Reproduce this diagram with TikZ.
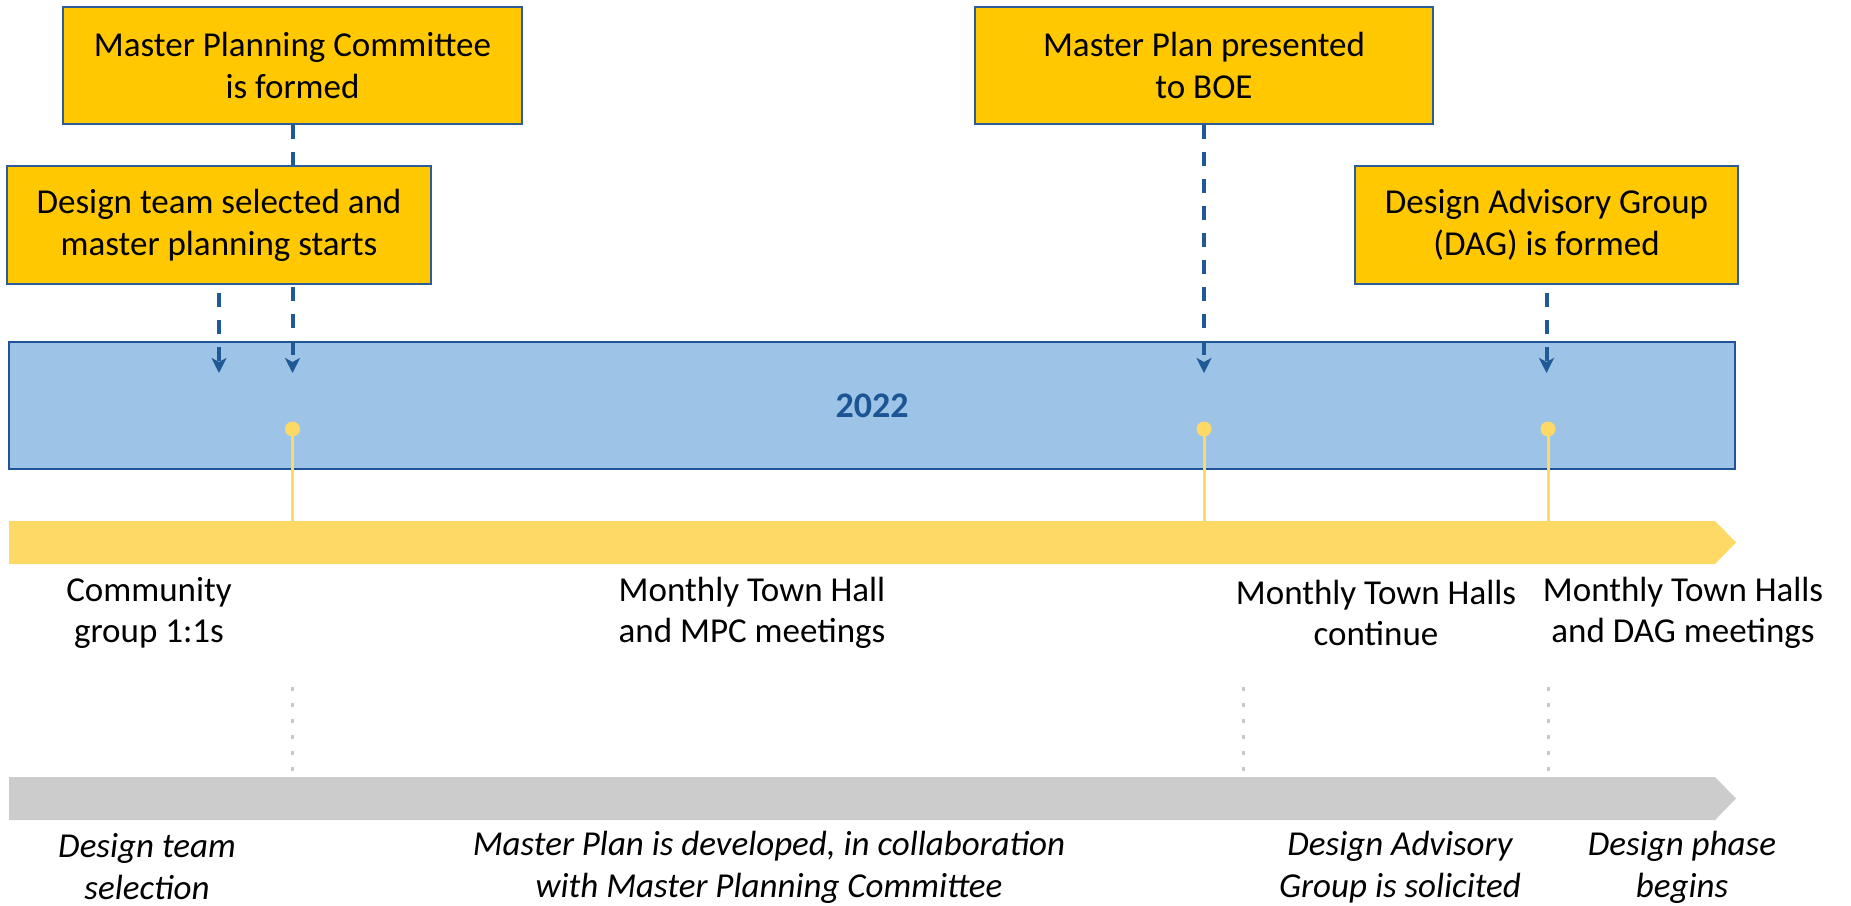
\documentclass[tikz,border=0pt]{standalone}
\usepackage{fontspec}
\setmainfont{Carlito}
\usetikzlibrary{arrows.meta}
\definecolor{boxgold}{HTML}{FFC800}
\definecolor{boxedge}{HTML}{2E5C98}
\definecolor{barblue}{HTML}{9DC3E6}
\definecolor{baredge}{HTML}{1F5597}
\definecolor{darkblue}{HTML}{1B5594}
\definecolor{arrowblue}{HTML}{1F5A96}
\definecolor{lightgold}{HTML}{FFD966}
\definecolor{bandgray}{HTML}{CCCCCC}
\definecolor{dotgray}{HTML}{C8C8C8}
\begin{document}
\begin{tikzpicture}[x=1pt,y=-1pt,
  eventbox/.style={draw=boxedge, line width=2pt, fill=boxgold, inner sep=0pt,
    align=center, font=\fontsize{35}{42}\selectfont},
  dasharrow/.style={draw=arrowblue, line width=4pt, dash pattern=on 14pt off 13pt,
    -{Stealth[length=15pt,width=15pt,inset=4pt]}},
  pindot/.style={circle, fill=lightgold, minimum size=15pt, inner sep=0pt},
  pinline/.style={draw=lightgold, line width=3pt},
  graydots/.style={draw=dotgray, line width=3pt, dash pattern=on 4pt off 12pt},
  rowtext/.style={align=center, inner sep=0pt, font=\fontsize{35}{41}\selectfont},
  italtext/.style={align=center, inner sep=0pt, font=\fontsize{35}{42}\selectfont\itshape}
]
\useasboundingbox (0,0) rectangle (1851,905);

% year bar
\node[draw=baredge, line width=2pt, fill=barblue, minimum width=1726pt, minimum height=127pt,
  inner sep=0pt, font=\fontsize{36}{40}\selectfont\bfseries, text=darkblue] (year) at (872,405.5) {2022};

% event boxes
\node[eventbox, minimum width=459pt, minimum height=117pt] (mpc) at (292.5,65.5) {Master Planning Committee\\is formed};
\node[eventbox, minimum width=458pt, minimum height=117pt] (boe) at (1204,65.5) {Master Plan presented\\to BOE};

% arrow end points
\coordinate (t1) at (219,373);
\coordinate (t2) at (292.5,373);
\coordinate (t3) at (1204,373);
\coordinate (t4) at (1546.5,373);

% MPC dashed line drawn behind the design team box
\draw[dasharrow] (mpc.south) -- (t2);

\node[eventbox, minimum width=424pt, minimum height=118pt] (dt) at (219,225) {Design team selected and\\master planning starts};
\node[eventbox, minimum width=383pt, minimum height=118pt] (dag) at (1546.5,225) {Design Advisory Group\\(DAG) is formed};

\draw[dasharrow, dash phase=19pt] (dt.south) -- (t1);
\draw[dasharrow] (boe.south) -- (t3);
\draw[dasharrow, dash phase=19pt] (dag.south) -- (t4);

% yellow band
\fill[lightgold] (9,521) -- (1715,521) -- (1736,542.5) -- (1715,564) -- (9,564) -- cycle;
\coordinate (b1) at (292.5,521);
\coordinate (b2) at (1204,521);
\coordinate (b3) at (1548,521);

\node[pindot] (p1) at (292.5,429) {};
\node[pindot] (p2) at (1204,429) {};
\node[pindot] (p3) at (1548,429) {};
\draw[pinline] (p1.center) -- (b1);
\draw[pinline] (p2.center) -- (b2);
\draw[pinline] (p3.center) -- (b3);

% row labels
\node[rowtext] (r1) at (149,612.5) {Community\\group 1:1s};
\node[rowtext] (r2) at (752,612.5) {Monthly Town Hall\\and MPC meetings};
\node[rowtext] (r3) at (1376,612.5) {Monthly Town Halls\\continue};
\node[rowtext] (r4) at (1683,612.5) {Monthly Town Halls\\and DAG meetings};

% gray dotted lines
\coordinate (g1a) at (292.5,687); \coordinate (g1b) at (292.5,772);
\coordinate (g2a) at (1243,687); \coordinate (g2b) at (1243,772);
\coordinate (g3a) at (1548,687); \coordinate (g3b) at (1548,772);
\draw[graydots] (g1a) -- (g1b);
\draw[graydots] (g2a) -- (g2b);
\draw[graydots] (g3a) -- (g3b);

% gray band
\fill[bandgray] (9,777) -- (1715,777) -- (1736,798.5) -- (1715,820) -- (9,820) -- cycle;

% italic labels
\node[italtext] (i1) at (147,867) {Design team\\selection};
\node[italtext] (i2) at (769,867) {Master Plan is developed, in collaboration\\with Master Planning Committee};
\node[italtext] (i3) at (1400,867) {Design Advisory\\Group is solicited};
\node[italtext] (i4) at (1682,867) {Design phase\\begins};
\end{tikzpicture}
\end{document}
